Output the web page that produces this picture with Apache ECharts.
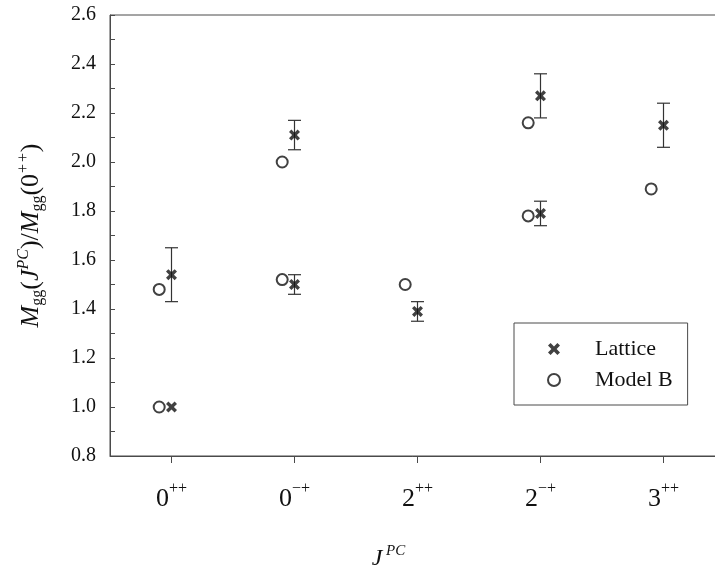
<!DOCTYPE html>
<html>
<head>
<meta charset="utf-8">
<script src="https://cdn.jsdelivr.net/npm/echarts@6/dist/echarts.min.js"></script>
<style>
  html, body { margin: 0; padding: 0; background: #fff; }
  #chart { width: 715px; height: 565px; }
</style>
</head>
<body>
<div id="chart"></div>
<script>
// tick labels on the J^PC axis (base, superscript)
const tickBase = ['0', '0', '2', '2', '3']
const tickSup = ['++', '\u2212+', '++', '\u2212+', '++']

// lattice results (x = category position, y = mass ratio, error bar ends)
const latticeX = [1, 1, 2, 2, 3, 4, 4, 5]
const latticeY = [1.00, 1.54, 2.11, 1.50, 1.39, 2.27, 1.79, 2.15]
const latticeLow = [null, 1.43, 2.05, 1.46, 1.35, 2.18, 1.74, 2.06]
const latticeHigh = [null, 1.65, 2.17, 1.54, 1.43, 2.36, 1.84, 2.24]

// model B predictions, drawn slightly left of each category
const modelX = [0.9, 0.9, 1.9, 1.9, 2.9, 3.9, 3.9, 4.9]
const modelY = [1.00, 1.48, 2.00, 1.52, 1.50, 2.16, 1.78, 1.89]

const FONT = 'Liberation Serif'
const AXIS = '#4a4a4a'

const chart = echarts.init(document.getElementById('chart'))

// bold "x" marker
const crossPath = 'path://M0,2.6 L2.6,0 L6,3.4 L9.4,0 L12,2.6 L8.6,6 L12,9.4 L9.4,12 L6,8.6 L2.6,12 L0,9.4 L3.4,6 Z'

const errorData = latticeX
  .map((x, i) => [x, latticeLow[i], latticeHigh[i]])
  .filter((d) => d[1] != null)

const option = {
  backgroundColor: '#fff',
  animation: false,
  grid: {
    left: 110,
    right: -10,
    top: 15,
    bottom: 109,
    outerBoundsMode: 'none',
    containLabel: false,
    show: true,
    borderColor: AXIS,
    borderWidth: 1
  },
  xAxis: {
    type: 'value',
    min: 0.5,
    max: 5.5,
    splitLine: { show: false },
    axisLine: { lineStyle: { color: AXIS, width: 1 } },
    axisTick: {
      customValues: [1, 2, 3, 4, 5],
      inside: false,
      length: 7,
      lineStyle: { color: AXIS }
    },
    axisLabel: {
      customValues: [1, 2, 3, 4, 5],
      margin: 25,
      formatter: (v) => `{b|${tickBase[v - 1]}}{s|${tickSup[v - 1]}}`,
      rich: {
        b: { fontFamily: FONT, fontSize: 26, lineHeight: 36, color: '#111' },
        s: { fontFamily: FONT, fontSize: 16, lineHeight: 14, verticalAlign: 'top', color: '#111' }
      }
    },
    name: '{j|J}{p| PC}',
    nameLocation: 'middle',
    nameGap: 88,
    nameTextStyle: {
      padding: [0, 58, 0, 0],
      rich: {
        j: { fontFamily: FONT, fontStyle: 'italic', fontSize: 24, lineHeight: 30, color: '#111' },
        p: { fontFamily: FONT, fontStyle: 'italic', fontSize: 15, lineHeight: 12, verticalAlign: 'top', color: '#111' }
      }
    }
  },
  yAxis: {
    type: 'value',
    min: 0.8,
    max: 2.6,
    interval: 0.2,
    splitLine: { show: false },
    axisLine: { show: true, lineStyle: { color: AXIS, width: 1 } },
    axisTick: { inside: true, length: 5, lineStyle: { color: AXIS } },
    minorTick: { show: true, splitNumber: 2, length: 5, lineStyle: { color: AXIS } },
    axisLabel: {
      margin: 14,
      fontFamily: FONT,
      fontSize: 20,
      color: '#111',
      formatter: (v) => v.toFixed(1)
    },
    name: '{m|M}{d|gg}{n|(}{m|J}{u|PC}{n|)/}{m|M}{d|gg}{n|(0}{u|++}{n|)}',
    nameLocation: 'middle',
    nameRotate: 90,
    nameGap: 64,
    nameTextStyle: {
      rich: {
        m: { fontFamily: FONT, fontStyle: 'italic', fontSize: 26, lineHeight: 30, color: '#111' },
        n: { fontFamily: FONT, fontSize: 26, lineHeight: 30, color: '#111' },
        d: { fontFamily: FONT, fontSize: 16, lineHeight: 20, verticalAlign: 'bottom', color: '#111' },
        u: { fontFamily: FONT, fontStyle: 'italic', fontSize: 16, lineHeight: 12, verticalAlign: 'top', color: '#111' }
      }
    }
  },
  legend: {
    orient: 'vertical',
    left: 514,
    top: 323,
    padding: [15, 15, 14, 33],
    itemGap: 9,
    itemWidth: 12,
    itemHeight: 12,
    borderColor: AXIS,
    borderWidth: 1,
    backgroundColor: '#fff',
    textStyle: {
      fontFamily: FONT,
      fontSize: 22,
      color: '#111',
      padding: [0, 0, 0, 30]
    },
    data: ['Lattice', 'Model B']
  },
  series: [
    {
      name: 'errors',
      type: 'custom',
      silent: true,
      data: errorData,
      renderItem: (params, api) => {
        const x = api.value(0)
        const lo = api.coord([x, api.value(1)])
        const hi = api.coord([x, api.value(2)])
        const w = 6.5
        const style = { stroke: '#333', lineWidth: 1.2 }
        return {
          type: 'group',
          children: [
            { type: 'line', shape: { x1: lo[0], y1: lo[1], x2: hi[0], y2: hi[1] }, style },
            { type: 'line', shape: { x1: lo[0] - w, y1: lo[1], x2: lo[0] + w, y2: lo[1] }, style },
            { type: 'line', shape: { x1: hi[0] - w, y1: hi[1], x2: hi[0] + w, y2: hi[1] }, style }
          ]
        }
      },
      z: 1
    },
    {
      name: 'Lattice',
      type: 'scatter',
      symbol: crossPath,
      symbolSize: 11,
      itemStyle: { color: '#111' },
      data: latticeX.map((x, i) => [x, latticeY[i]]),
      z: 3
    },
    {
      name: 'Model B',
      type: 'scatter',
      symbol: 'emptyCircle',
      symbolSize: 11,
      itemStyle: { color: '#111', borderColor: '#111', borderWidth: 1 },
      data: modelX.map((x, i) => [x, modelY[i]]),
      z: 2
    }
  ]
}

chart.setOption(option)
</script>
</body>
</html>
